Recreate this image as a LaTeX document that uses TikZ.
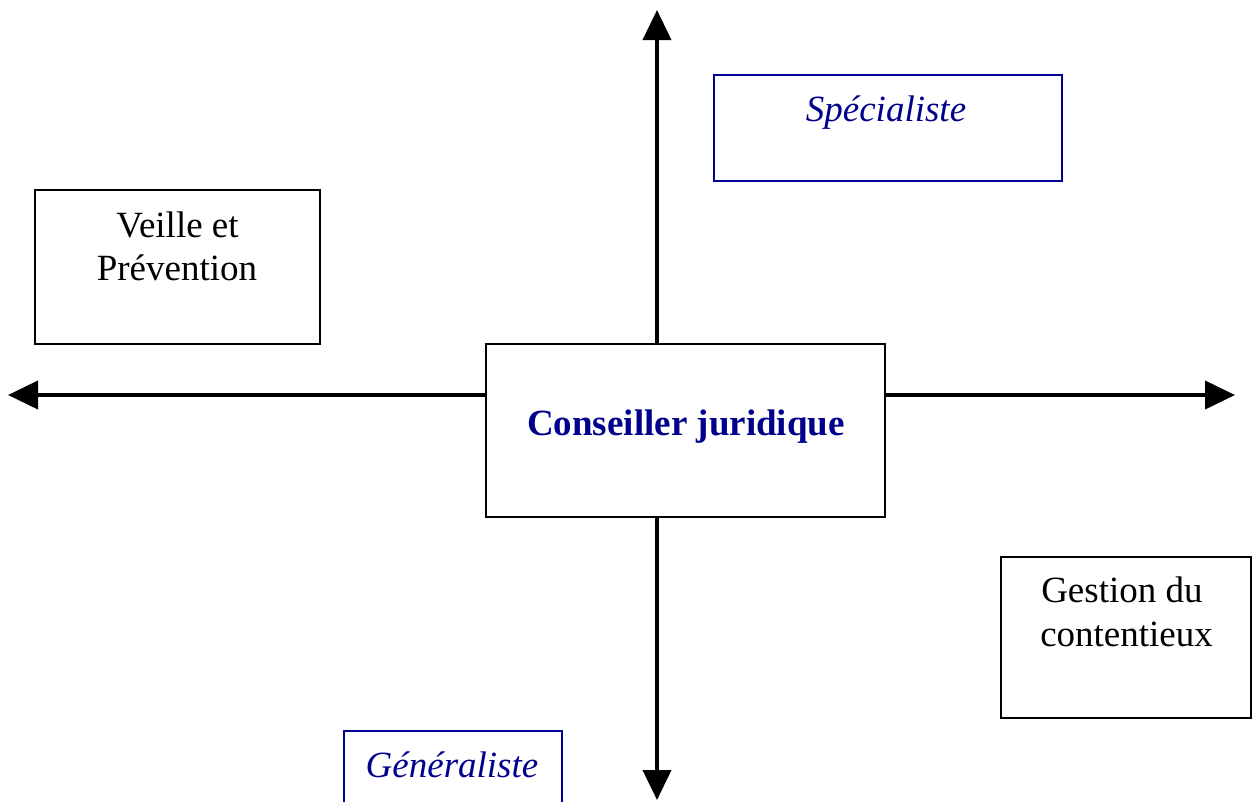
\documentclass[tikz,border=0pt]{standalone}
\usepackage{fontspec}
\setmainfont{Liberation Serif}
\usetikzlibrary{arrows.meta}
\definecolor{jblue}{RGB}{0,0,150}
\definecolor{jtext}{RGB}{0,0,140}
\begin{document}
\begin{tikzpicture}[x=0.75pt,y=-0.75pt,
  bigfont/.style={font=\fontsize{27.75}{33}\selectfont},
  centerbox/.style={draw=black,line width=2pt,inner sep=0pt},
  bluebox/.style={draw=jblue,line width=1.2pt,inner sep=0pt},
  plainbox/.style={draw=black,line width=0.8pt,inner sep=0pt},
  axis/.style={line width=3pt,-{Triangle[length=22.5pt,width=21pt]}},
  txt/.style={bigfont,inner sep=0pt,anchor=base}]
\useasboundingbox (0,0) rectangle (1252,801);
% center
\node[centerbox,minimum width=299.25pt,minimum height=129.75pt] (c) at (685.5,430.5) {};
\node[txt,text=jtext,font=\fontsize{27.75}{33}\selectfont\bfseries] (ct) at (686,435) {Conseiller juridique};
% axes
\coordinate (top) at (657,10);
\coordinate (bot) at (657,800);
\coordinate (lft) at (8,395);
\coordinate (rgt) at (1235,395);
\draw[axis] (c.north -| top) -- (top);
\draw[axis] (c.south -| bot) -- (bot);
\draw[axis] (c.west |- lft) -- (lft);
\draw[axis] (c.east |- rgt) -- (rgt);
% boxes
\node[bluebox,minimum width=261pt,minimum height=79.5pt] (spec) at (888,128) {};
\node[txt,text=jtext,font=\fontsize{27.75}{33}\selectfont\itshape] (spect) at (886,121) {Spécialiste};
\node[bluebox,minimum width=163.5pt,minimum height=66.75pt] (gen) at (453,775.5) {};
\node[txt,text=jtext,font=\fontsize{27.75}{33}\selectfont\itshape] (gent) at (452,777) {Généraliste};
\node[plainbox,minimum width=213.75pt,minimum height=115.5pt] (veil) at (177.5,267) {};
\node[txt] (veil1) at (177.5,237) {Veille et};
\node[txt] (veil2) at (177,280) {Prévention};
\node[plainbox,minimum width=187.5pt,minimum height=120.75pt] (gest) at (1126,637.5) {};
\node[txt,anchor=base west] (gest1) at (1041,602) {Gestion du};
\node[txt,anchor=base west] (gest2) at (1040,646) {contentieux};
\end{tikzpicture}
\end{document}
